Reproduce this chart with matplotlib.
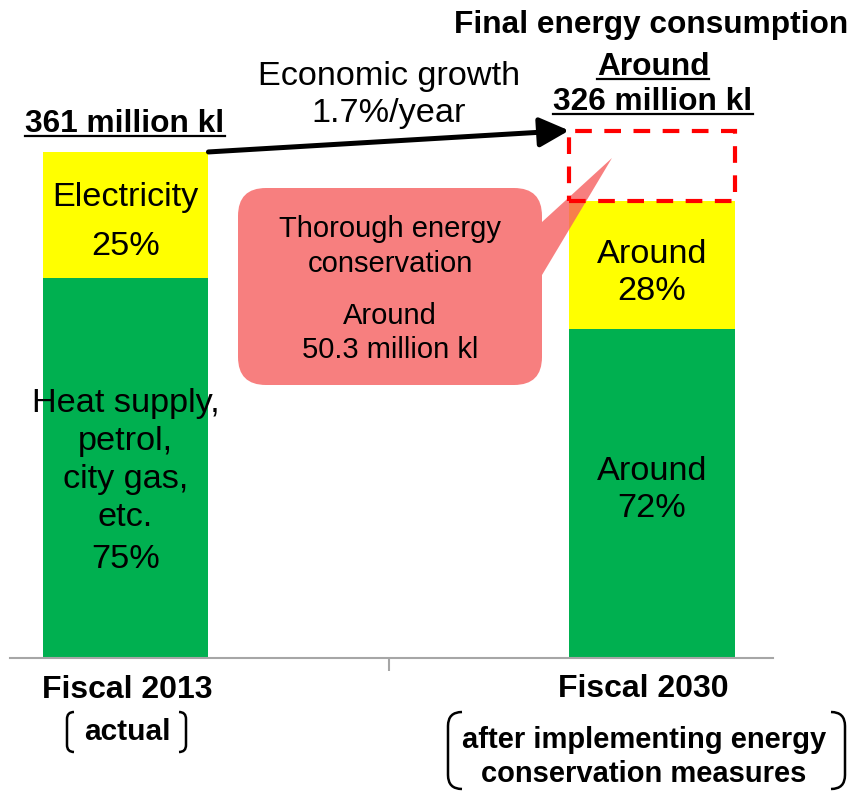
import matplotlib.pyplot as plt
import numpy as np
from matplotlib.path import Path
from matplotlib.patches import PathPatch
from matplotlib.lines import Line2D
from matplotlib.transforms import Affine2D

plt.rcParams['font.family'] = ['Liberation Sans', 'DejaVu Sans']

# data (million kl, shares in %)
years = ['Fiscal 2013', 'Fiscal 2030']
notes = [['actual'], ['after implementing energy', 'conservation measures']]
totals = [361, 326]
elec_share = [25, 28]
other_share = [75, 72]
saving = 50.3
growth = 1.7

elec = [t * s / 100 for t, s in zip(totals, elec_share)]
other = [t * s / 100 for t, s in zip(totals, other_share)]

W, H = 854, 791
fig = plt.figure(figsize=(W / 100, H / 100), dpi=100)
# pixel coords, origin top-left
T = Affine2D().scale(1 / 100, -1 / 100).translate(0, H / 100) + fig.dpi_scale_trans

ax = fig.add_axes([10 / W, 133 / H, 763 / W, 658 / H])
x = np.arange(len(years))
bw = 0.315
ax.bar(x, other, bw, color='#00B050', zorder=2)
ax.bar(x, elec, bw, bottom=other, color='#FFFF00', zorder=2)
ax.bar(x[1], saving, bw, bottom=totals[1], fill=False, edgecolor='#FF0000',
       lw=3, ls=(0, (4, 3)), zorder=5)
ax.set_xlim(-0.2194, 1.2298)
ax.set_ylim(0, 469.4)
for s in ['top', 'right', 'left']:
    ax.spines[s].set_visible(False)
ax.spines['bottom'].set_color('#A6A6A6')
ax.spines['bottom'].set_linewidth(1.5)
ax.set_yticks([])
ax.set_xticks([0.5])
ax.set_xticklabels([])
ax.tick_params(axis='x', length=9, width=1.5, color='#A6A6A6', direction='out')

# growth arrow from 2013 total to 2030 "without conservation" level
ax.annotate('', xy=(x[1] - bw / 2, totals[1] + saving), xytext=(x[0] + bw / 2, totals[0]),
            arrowprops=dict(arrowstyle='-|>,head_length=1.8,head_width=0.9', mutation_scale=10,
                            lw=3.6, color='black', shrinkA=0, shrinkB=0), zorder=6)

# callout bubble
x0, y0, x1, y1, r = 238, 188, 542, 385, 28
verts = [(x0 + r, y0), (x1 - r, y0), (x1, y0), (x1, y0 + r), (x1, 222), (612, 158), (x1, 275),
         (x1, y1 - r), (x1, y1), (x1 - r, y1), (x0 + r, y1), (x0, y1), (x0, y1 - r),
         (x0, y0 + r), (x0, y0), (x0 + r, y0), (x0 + r, y0)]
codes = [Path.MOVETO, Path.LINETO, Path.CURVE3, Path.CURVE3, Path.LINETO, Path.LINETO, Path.LINETO,
         Path.LINETO, Path.CURVE3, Path.CURVE3, Path.LINETO, Path.CURVE3, Path.CURVE3,
         Path.LINETO, Path.CURVE3, Path.CURVE3, Path.CLOSEPOLY]
ax.add_patch(PathPatch(Path(verts, codes), facecolor='#F65F5F', alpha=0.8, lw=0,
                       transform=T, clip_on=False, zorder=4))


def txt(px, py, s, size, bold=False, **kw):
    return fig.text(px, py, s, transform=T, ha='center', va='baseline', fontsize=size,
                    fontweight='bold' if bold else 'normal', zorder=10, **kw)


def underline(t, py):
    fig.canvas.draw()
    bb = t.get_window_extent()
    fig.add_artist(Line2D([bb.x0, bb.x1], [py, py], transform=T, color='black', lw=1.6))


def bracket(px, top, bot, d, r):
    v = [(px + d * r, top), (px, top), (px, top + r), (px, bot - r), (px, bot), (px + d * r, bot)]
    c = [Path.MOVETO, Path.CURVE3, Path.CURVE3, Path.LINETO, Path.CURVE3, Path.CURVE3]
    fig.add_artist(PathPatch(Path(v, c), fill=False, lw=1.8, edgecolor='black', transform=T))


BIG = 24.7
txt(651, 33, 'Final energy consumption', 22.8, True)
u1 = txt(653, 75, 'Around', 22.8, True)
u2 = txt(653, 110, f'{totals[1]} million kl', 22.8, True)
u3 = txt(125, 132, f'{totals[0]} million kl', 22.8, True)
underline(u1, 79)
underline(u2, 114)
underline(u3, 136)

txt(389, 85, 'Economic growth', BIG)
txt(389, 122, f'{growth}%/year', BIG)

# bar labels
txt(125.5, 206, 'Electricity', BIG)
txt(125.5, 255, f'{elec_share[0]}%', BIG)
for line, b in zip(['Heat supply,', 'petrol,', 'city gas,', 'etc.'], [412, 450, 488, 526]):
    txt(125.5, b, line, BIG)
txt(125.5, 568, f'{other_share[0]}%', BIG)
txt(652, 263, 'Around', BIG)
txt(652, 300, f'{elec_share[1]}%', BIG)
txt(652, 480, 'Around', BIG)
txt(652, 517, f'{other_share[1]}%', BIG)

# callout text
txt(390, 237, 'Thorough energy', 21)
txt(390, 272, 'conservation', 21)
txt(390, 324, 'Around', 21)
txt(390, 358, f'{saving} million kl', 21)

# category labels
txt(127.5, 698, years[0], 23, True)
txt(127.5, 740, notes[0][0], 21.5, True)
txt(643, 697, years[1], 23, True)
txt(644, 748, notes[1][0], 21, True)
txt(644, 782, notes[1][1], 21, True)
bracket(67, 712, 752, 1, 7)
bracket(186, 712, 752, -1, 7)
bracket(448, 712, 789, 1, 14)
bracket(845, 712, 789, -1, 14)

fig.savefig('out.png', dpi=100)
